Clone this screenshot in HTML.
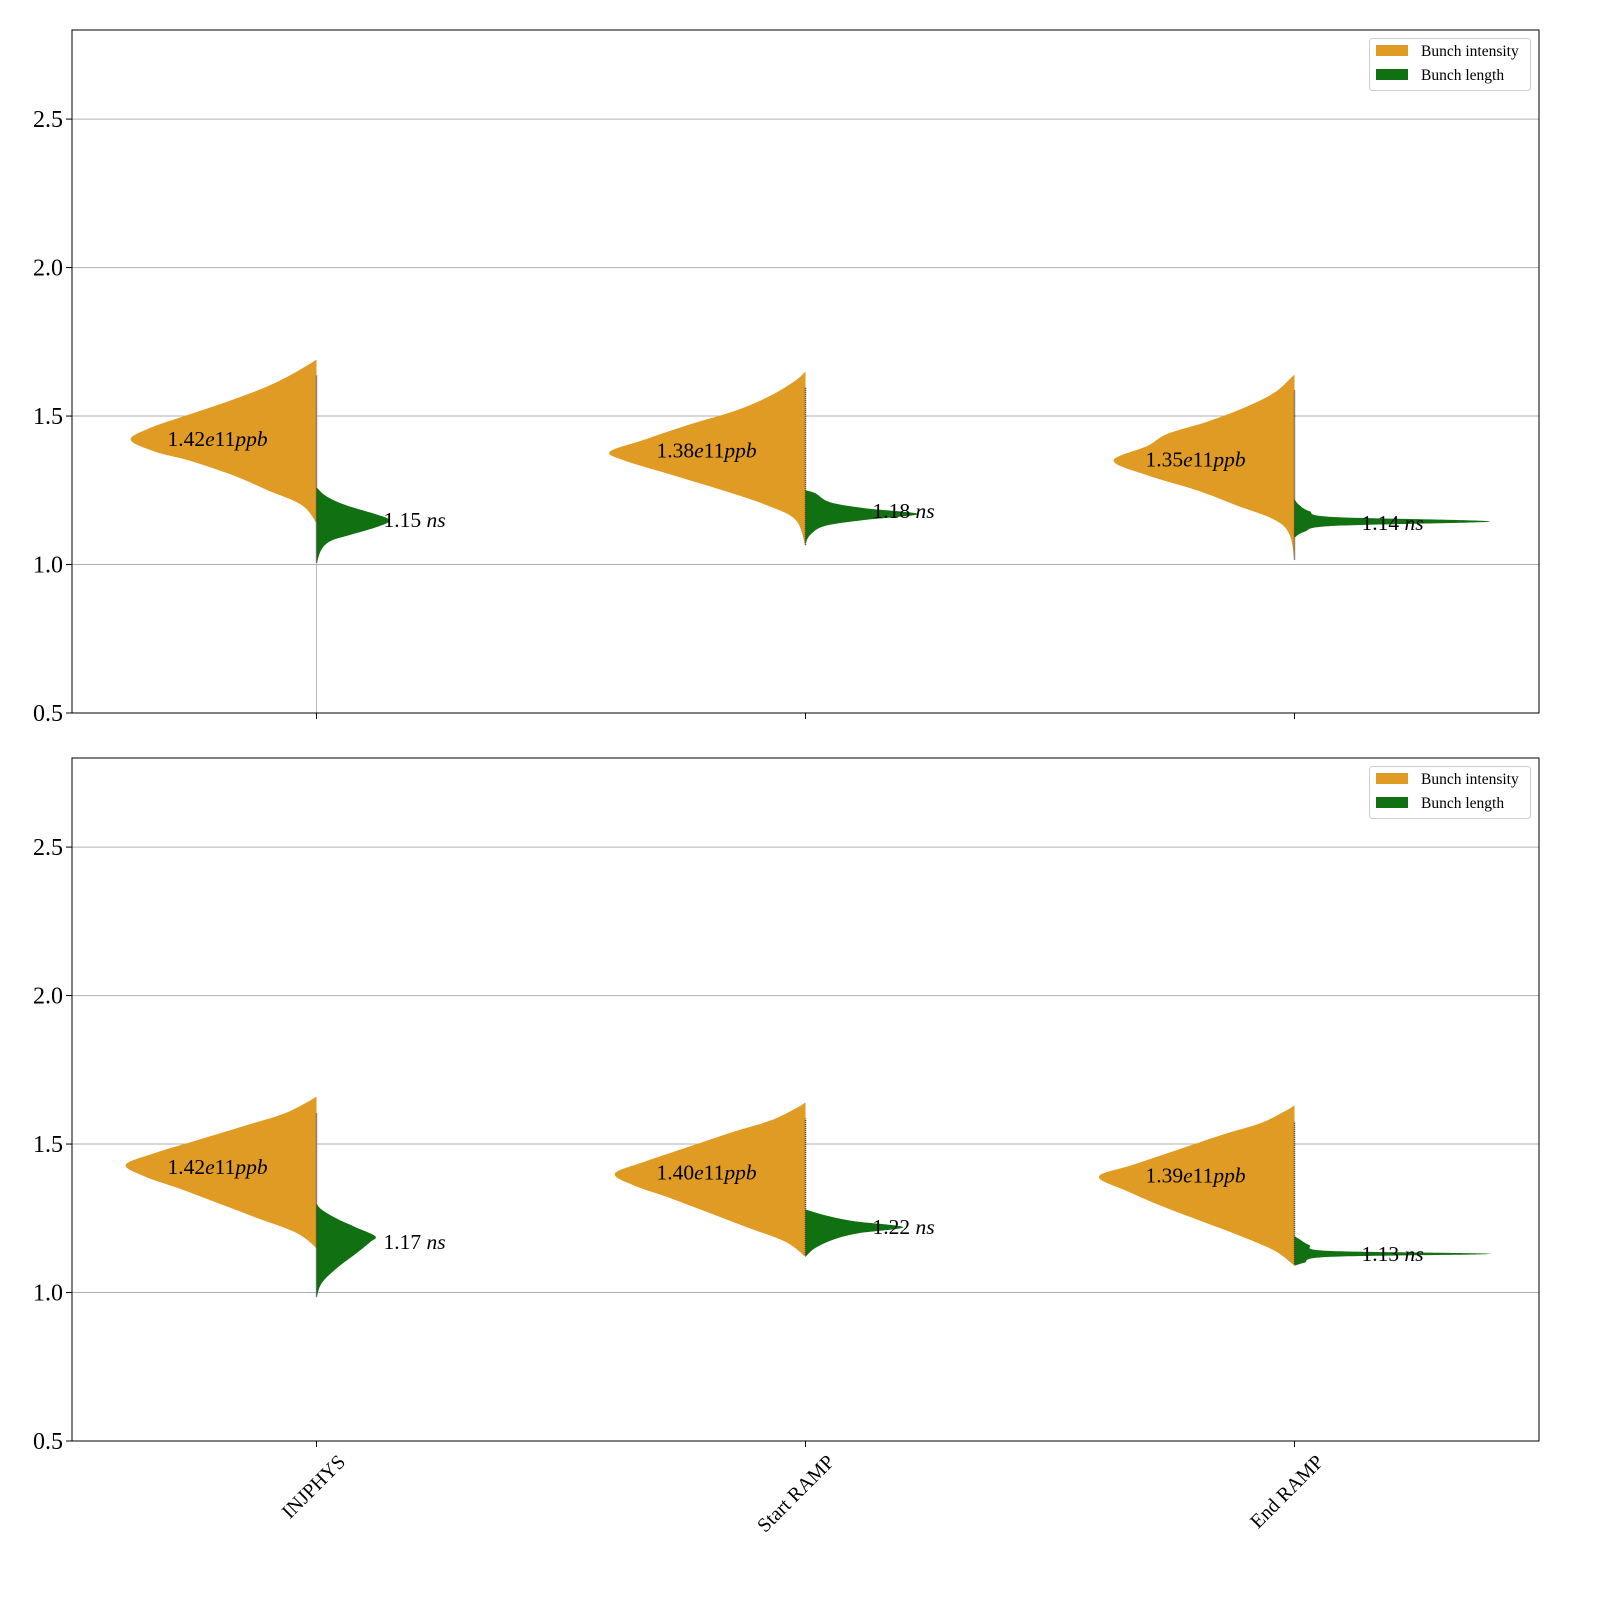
<!DOCTYPE html>
<html><head><meta charset="utf-8"><style>
html,body{margin:0;padding:0;background:#fff;overflow:hidden;width:1600px;height:1600px;}
svg{display:block;}
svg text{font-family:"Liberation Serif",serif;}
</style></head><body>
<svg id="chart" width="1600" height="1600" viewBox="0 0 1600 1600" xmlns="http://www.w3.org/2000/svg"></svg>
<script>
const categories = ["INJPHYS", "Start RAMP", "End RAMP"];
const yTicks = [0.5, 1.0, 1.5, 2.0, 2.5];
const yTickLabels = ["0.5", "1.0", "1.5", "2.0", "2.5"];
// profiles: [value, half-width in category units]
const topIntensity = [
 [[1.14,0],[1.2,0.03],[1.25,0.1],[1.3,0.17],[1.35,0.26],[1.38,0.33],[1.42,0.38],[1.46,0.34],[1.5,0.27],[1.55,0.18],[1.6,0.1],[1.65,0.04],[1.69,0]],
 [[1.06,0],[1.15,0.02],[1.2,0.08],[1.25,0.17],[1.3,0.27],[1.35,0.37],[1.38,0.4],[1.42,0.33],[1.47,0.24],[1.52,0.14],[1.57,0.07],[1.62,0.02],[1.65,0]],
 [[1.01,0],[1.1,0.01],[1.15,0.04],[1.2,0.12],[1.25,0.2],[1.3,0.3],[1.35,0.37],[1.4,0.3],[1.44,0.26],[1.48,0.18],[1.53,0.1],[1.58,0.04],[1.64,0]]
];
const topLength = [
 [[1.0,0],[1.05,0.01],[1.08,0.03],[1.1,0.07],[1.13,0.13],[1.15,0.15],[1.17,0.12],[1.2,0.06],[1.23,0.02],[1.26,0]],
 [[1.07,0],[1.1,0.01],[1.13,0.04],[1.15,0.12],[1.17,0.23],[1.19,0.12],[1.21,0.05],[1.24,0.02],[1.25,0]],
 [[1.09,0],[1.11,0.02],[1.13,0.08],[1.145,0.4],[1.16,0.08],[1.18,0.03],[1.2,0.01],[1.22,0]]
];
const bottomIntensity = [
 [[1.15,0],[1.2,0.04],[1.25,0.12],[1.3,0.2],[1.35,0.28],[1.39,0.35],[1.43,0.39],[1.47,0.33],[1.51,0.25],[1.56,0.15],[1.6,0.07],[1.64,0.02],[1.66,0]],
 [[1.12,0],[1.17,0.04],[1.22,0.12],[1.27,0.2],[1.32,0.28],[1.36,0.35],[1.40,0.39],[1.44,0.33],[1.49,0.24],[1.54,0.15],[1.58,0.07],[1.62,0.02],[1.64,0]],
 [[1.09,0],[1.14,0.04],[1.19,0.11],[1.24,0.19],[1.29,0.27],[1.34,0.34],[1.39,0.40],[1.43,0.33],[1.48,0.24],[1.53,0.15],[1.57,0.07],[1.61,0.02],[1.63,0]]
];
const bottomLength = [
 [[0.98,0],[1.03,0.01],[1.08,0.04],[1.13,0.08],[1.17,0.11],[1.19,0.12],[1.22,0.08],[1.25,0.04],[1.28,0.01],[1.3,0]],
 [[1.12,0],[1.15,0.02],[1.18,0.06],[1.2,0.11],[1.22,0.2],[1.24,0.1],[1.26,0.04],[1.28,0]],
 [[1.09,0],[1.1,0.02],[1.12,0.07],[1.13,0.4],[1.14,0.07],[1.16,0.03],[1.18,0.01],[1.19,0]]
];
const topIntensityLabels = ["1.42", "1.38", "1.35"];
const topIntensityMedians = [1.42, 1.38, 1.35];
const topLengthLabels = ["1.15", "1.18", "1.14"];
const topLengthMedians = [1.15, 1.18, 1.14];
const bottomIntensityLabels = ["1.42", "1.40", "1.39"];
const bottomIntensityMedians = [1.42, 1.40, 1.39];
const bottomLengthLabels = ["1.17", "1.22", "1.13"];
const bottomLengthMedians = [1.17, 1.22, 1.13];

const svg = document.getElementById('chart');
const NS = 'http://www.w3.org/2000/svg';
function mk(tag, attrs, parent){const e=document.createElementNS(NS,tag);for(const k in attrs)e.setAttribute(k,attrs[k]);(parent||svg).appendChild(e);return e;}
const X0=72, X1=1539;
function xScale(v){return X0+(v+0.5)/3*(X1-X0);}
const panels=[
 {top:30,bottom:713,I:topIntensity,L:topLength,il:topIntensityLabels,im:topIntensityMedians,ll:topLengthLabels,lm:topLengthMedians,name:'top'},
 {top:758,bottom:1441,I:bottomIntensity,L:bottomLength,il:bottomIntensityLabels,im:bottomIntensityMedians,ll:bottomLengthLabels,lm:bottomLengthMedians,name:'bottom'}
];
function smoothPath(pts){
 let d='M'+pts[0][0]+','+pts[0][1];
 for(let i=0;i<pts.length-1;i++){
  const p0=pts[Math.max(i-1,0)],p1=pts[i],p2=pts[i+1],p3=pts[Math.min(i+2,pts.length-1)];
  const c1=[p1[0]+(p2[0]-p0[0])/6,p1[1]+(p2[1]-p0[1])/6];
  const c2=[p2[0]-(p3[0]-p1[0])/6,p2[1]-(p3[1]-p1[1])/6];
  d+=' C'+c1[0].toFixed(1)+','+c1[1].toFixed(1)+' '+c2[0].toFixed(1)+','+c2[1].toFixed(1)+' '+p2[0].toFixed(1)+','+p2[1].toFixed(1);
 }
 return d+' Z';
}
panels.forEach((P,pi)=>{
 const yScale=v=>P.bottom-(v-0.5)/(2.8-0.5)*(P.bottom-P.top);
 const g=mk('g',{});
 
 
 yTicks.forEach((t,i)=>{
  const y=yScale(t);
  const gl=mk('line',{x1:X0,x2:X1,y1:y,y2:y,stroke:'#b0b0b0','stroke-width':1},g);
  
  
  mk('line',{x1:X0-6,x2:X0,y1:y,y2:y,stroke:'#000','stroke-width':1},g);
  const tx=mk('text',{x:X0-9,y:y+8,'text-anchor':'end','font-size':24},g);
  tx.textContent=yTickLabels[i];
  
  
 });
 categories.forEach((c,i)=>{
  const cx=xScale(i);
  mk('line',{x1:cx,x2:cx,y1:P.bottom,y2:P.bottom+6,stroke:'#000','stroke-width':1},g);
  const ip=P.I[i];
  const pts=ip.map(p=>[cx-p[1]*489,yScale(p[0])]);
  const a=mk('path',{d:smoothPath(pts),fill:'#df9b23'},g);
  
  
  const lp=P.L[i];
  const pts2=lp.map(p=>[cx+p[1]*489,yScale(p[0])]);
  const b=mk('path',{d:smoothPath(pts2),fill:'#117011'},g);
  
  
  const lo=Math.min(ip[0][0],lp[0][0]), hi=Math.max(ip[ip.length-1][0],lp[lp.length-1][0]);
  const st=mk('line',{x1:cx,x2:cx,y1:yScale(lo)-2,y2:yScale(hi)+16,stroke:'#333','stroke-width':1.5,'stroke-dasharray':'1 1'},g);
  
  
  const t1=mk('text',{x:cx-149,y:yScale(P.im[i])+6,'font-size':21.5},g);
  t1.innerHTML=P.il[i]+'<tspan font-style="italic">e</tspan>11<tspan font-style="italic">ppb</tspan>';
  
  
  const t2=mk('text',{x:cx+67,y:yScale(P.lm[i])+7,'font-size':21.5},g);
  t2.innerHTML=P.ll[i]+' <tspan font-style="italic">ns</tspan>';
  
  
  if(pi===1){
   const xl=mk('text',{x:0,y:0,'font-size':20,'text-anchor':'end',transform:'translate('+(cx+30)+','+(P.bottom+22)+') rotate(-45)'},g);
   xl.textContent=c;
   
   
  }
 });
 if(pi===0){
  const wl=mk('line',{x1:xScale(0),x2:xScale(0),y1:yScale(1.0),y2:P.bottom,stroke:'#bbb','stroke-width':1},g);
  
  
 }
 const fr=mk('rect',{x:X0,y:P.top,width:X1-X0,height:P.bottom-P.top,fill:'none',stroke:'#000','stroke-width':1},g);
 
 
 const lg=mk('g',{},g);
 
 
 mk('rect',{x:1369.5,y:P.top+8.5,width:161,height:52,rx:3,fill:'#fff',stroke:'#ccc'},lg);
 mk('rect',{x:1376,y:P.top+15,width:32,height:11,fill:'#df9b23'},lg);
 mk('rect',{x:1376,y:P.top+39,width:32,height:11,fill:'#117011'},lg);
 const l1=mk('text',{x:1421,y:P.top+26,'font-size':15.5},lg); l1.textContent='Bunch intensity';
 
 
 const l2=mk('text',{x:1421,y:P.top+50,'font-size':15.5},lg); l2.textContent='Bunch length';
 
 
});
</script>
</body></html>
